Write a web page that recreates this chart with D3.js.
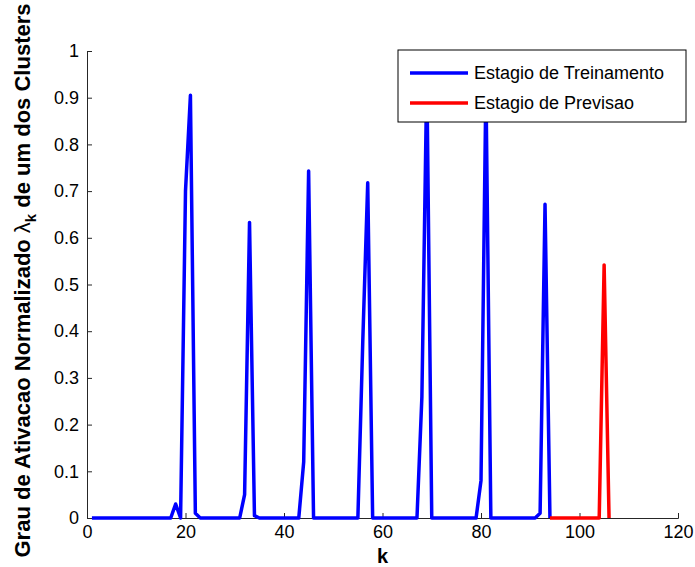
<!DOCTYPE html>
<html>
<head>
<meta charset="utf-8">
<script src="https://cdn.jsdelivr.net/npm/d3@7"></script>
<style>
  body { margin: 0; background: #fff; }
  text { font-family: "Liberation Sans", Arial, sans-serif; }
</style>
</head>
<body>
<div id="chart"></div>
<script>
// training stage, k = 1..94
const treinoK = d3.range(1, 95);
const treinoVals = [
  0, 0, 0, 0, 0, 0, 0, 0, 0, 0,          // 1-10
  0, 0, 0, 0, 0, 0, 0, 0.03, 0, 0.70,     // 11-20
  0.905, 0.01, 0, 0, 0, 0, 0, 0, 0, 0,    // 21-30
  0, 0.05, 0.633, 0.005, 0, 0, 0, 0, 0, 0, // 31-40
  0, 0, 0, 0.12, 0.743, 0, 0, 0, 0, 0,    // 41-50
  0, 0, 0, 0, 0, 0.38, 0.718, 0, 0, 0,    // 51-60
  0, 0, 0, 0, 0, 0, 0, 0.26, 0.95, 0,     // 61-70
  0, 0, 0, 0, 0, 0, 0, 0, 0, 0.08,        // 71-80
  0.93, 0, 0, 0, 0, 0, 0, 0, 0, 0,        // 81-90
  0, 0.01, 0.672, 0                       // 91-94
];
// forecast stage, k = 94..106
const previsaoK = d3.range(94, 107);
const previsaoVals = [0, 0, 0, 0, 0, 0, 0, 0, 0, 0, 0, 0.542, 0];

const xTicks = [0, 20, 40, 60, 80, 100, 120];
const yTicks = [0, 0.1, 0.2, 0.3, 0.4, 0.5, 0.6, 0.7, 0.8, 0.9, 1];
const legendLabels = ["Estagio de Treinamento", "Estagio de Previsao"];
const colors = ["#0000ff", "#ff0000"];

const width = 695, height = 567;
const margin = { left: 87, right: 17, top: 51, bottom: 49 };

const svg = d3.select("#chart").append("svg")
  .attr("width", width)
  .attr("height", height);

const x = d3.scaleLinear().domain([0, 120]).range([margin.left, width - margin.right]);
const y = d3.scaleLinear().domain([0, 1]).range([height - margin.bottom, margin.top]);

// axes, ticks inside
const xAxis = svg.append("g")
  .attr("transform", `translate(0,${y(0)})`)
  .call(d3.axisBottom(x).tickValues(xTicks).tickSize(-5).tickPadding(5).tickFormat(d3.format("d")));
const yAxis = svg.append("g")
  .attr("transform", `translate(${x(0)},0)`)
  .call(d3.axisLeft(y).tickValues(yTicks).tickSize(-5).tickPadding(8).tickFormat(d => d === 0 || d === 1 ? d : d3.format(".1f")(d)));

[xAxis, yAxis].forEach(g => {
  g.select(".domain").attr("stroke", "#262626").attr("stroke-width", 1);
  g.selectAll(".tick line").attr("stroke", "#262626");
  g.selectAll(".tick text").attr("fill", "#000").style("font-size", "18px");
});
xAxis.selectAll(".tick text").attr("dy", "0.85em");

const line = d3.line().x(d => x(d[0])).y(d => y(d[1]));

svg.append("path")
  .datum(d3.zip(treinoK, treinoVals))
  .attr("d", line)
  .attr("fill", "none")
  .attr("stroke", colors[0])
  .attr("stroke-width", 3.5)
  .attr("stroke-linejoin", "round");

svg.append("path")
  .datum(d3.zip(previsaoK, previsaoVals))
  .attr("d", line)
  .attr("fill", "none")
  .attr("stroke", colors[1])
  .attr("stroke-width", 3.5)
  .attr("stroke-linejoin", "round");

// axis labels
svg.append("text")
  .attr("x", x(60))
  .attr("y", 563)
  .attr("text-anchor", "middle")
  .style("font-size", "20px")
  .style("font-weight", "bold")
  .text("k");

const yl = svg.append("text")
  .attr("transform", `translate(30,${(y(0) + y(1)) / 2 - 4}) rotate(-90)`)
  .attr("text-anchor", "middle")
  .style("font-size", "22px")
  .style("font-weight", "bold");
yl.append("tspan").text("Grau de Ativacao Normalizado ");
yl.append("tspan").style("font-weight", "normal").text("\u03bb");
yl.append("tspan").attr("dy", 6).style("font-size", "15px").text("k");
yl.append("tspan").attr("dy", -6).text(" de um dos Clusters");

// legend
const lg = svg.append("g").attr("transform", "translate(398,50)");
lg.append("rect")
  .attr("width", 288).attr("height", 72)
  .attr("fill", "#fff").attr("stroke", "#000").attr("stroke-width", 1);
legendLabels.forEach((lab, i) => {
  const cy = 23 + i * 30;
  lg.append("line")
    .attr("x1", 12).attr("x2", 70).attr("y1", cy).attr("y2", cy)
    .attr("stroke", colors[i]).attr("stroke-width", 3.5);
  lg.append("text")
    .attr("x", 76).attr("y", cy).attr("dy", "0.35em")
    .style("font-size", "18px")
    .text(lab);
});
</script>
</body>
</html>
